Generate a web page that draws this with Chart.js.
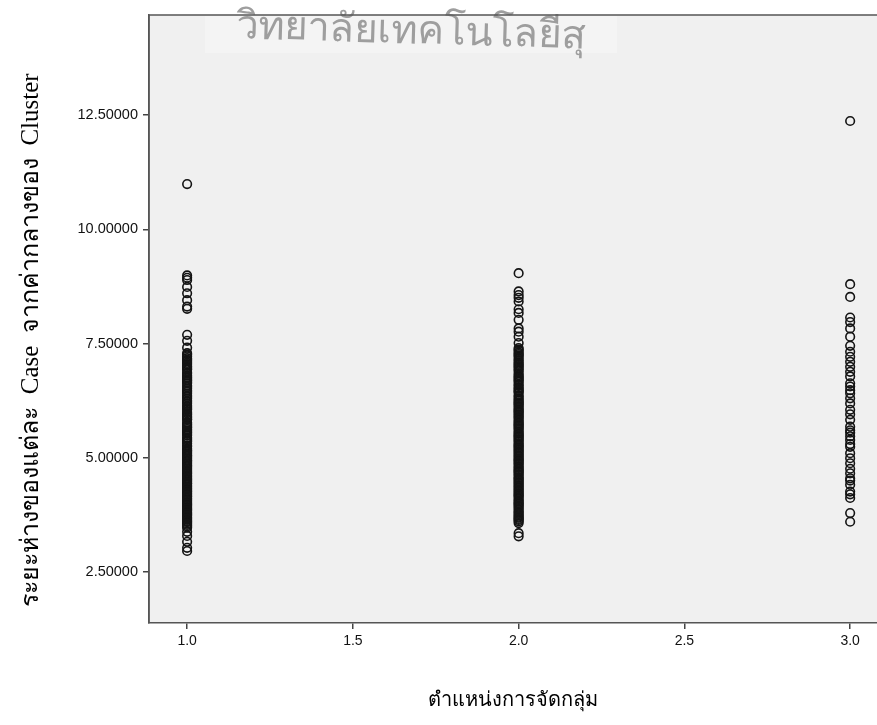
<!DOCTYPE html>
<html><head><meta charset="utf-8">
<script src="https://cdn.jsdelivr.net/npm/chart.js@4/dist/chart.umd.min.js"></script>
<style>html,body{margin:0;padding:0;background:#fff;} #wrap{width:877px;height:725px;position:relative;}</style>
</head><body><div id="wrap"><canvas id="c" width="877" height="725"></canvas></div>
<script>
const categories = [1.0, 2.0, 3.0];
const clusterOne = [10.99, 8.99, 8.94, 8.89, 8.74, 8.60, 8.45, 8.31, 8.26, 7.69, 7.56, 7.41,
  7.29, 7.22, 7.18, 7.12, 7.05, 6.98, 6.93, 6.87, 6.80, 6.74, 6.69, 6.63, 6.58, 6.51, 6.47, 6.40,
  6.36, 6.29, 6.22, 6.18, 6.11, 6.05, 6.00, 5.94, 5.88, 5.83, 5.77, 5.71, 5.66, 5.60, 5.55, 5.49,
  5.44, 5.38, 5.31, 5.27, 5.20, 5.15, 5.09, 5.04, 4.98, 4.93, 4.87, 4.82, 4.76, 4.70, 4.65, 4.59,
  4.53, 4.48, 4.43, 4.37, 4.31, 4.26, 4.20, 4.15, 4.09, 4.03, 3.98, 3.92, 3.87, 3.81, 3.76, 3.70,
  3.64, 3.59, 3.53, 3.47, 3.38, 3.29, 3.16, 3.03, 2.96,
  7.26, 7.15, 7.08, 7.01, 6.95, 6.84, 6.77, 6.71, 6.66, 6.55, 6.44, 6.33, 6.25, 6.14, 6.08, 5.97,
  5.91, 5.85, 5.74, 5.68, 5.63, 5.57, 5.52, 5.41, 5.35, 5.24, 5.17, 5.12, 5.06, 5.01, 4.95, 4.90,
  4.84, 4.79, 4.73, 4.67, 4.62, 4.56, 4.51, 4.45, 4.40, 4.34, 4.28, 4.23, 4.17, 4.12, 4.06, 4.00,
  3.95, 3.89, 3.84, 3.78, 3.73, 3.67, 3.61, 3.56, 3.50];
const clusterTwo = [9.04, 8.64, 8.56, 8.50, 8.42, 8.25, 8.17, 8.02, 7.83, 7.76, 7.65, 7.51,
  7.40, 7.34, 7.27, 7.21, 7.16, 7.09, 7.03, 6.97, 6.90, 6.85, 6.78, 6.72, 6.66, 6.61, 6.54, 6.48,
  6.43, 6.37, 6.30, 6.24, 6.19, 6.13, 6.06, 6.01, 5.95, 5.89, 5.82, 5.76, 5.71, 5.65, 5.58, 5.52,
  5.47, 5.41, 5.35, 5.28, 5.23, 5.17, 5.11, 5.05, 4.99, 4.94, 4.88, 4.81, 4.75, 4.70, 4.64, 4.57,
  4.52, 4.46, 4.40, 4.34, 4.28, 4.22, 4.17, 4.10, 4.04, 3.99, 3.93, 3.86, 3.80, 3.74, 3.69, 3.64,
  3.57, 3.35, 3.28,
  7.37, 7.30, 7.24, 7.13, 7.06, 7.00, 6.93, 6.81, 6.75, 6.69, 6.58, 6.51, 6.45, 6.34, 6.27, 6.21,
  6.16, 6.09, 6.03, 5.98, 5.92, 5.86, 5.79, 5.73, 5.68, 5.62, 5.55, 5.49, 5.44, 5.38, 5.31, 5.26,
  5.20, 5.14, 5.08, 5.02, 4.96, 4.91, 4.85, 4.78, 4.72, 4.67, 4.61, 4.55, 4.49, 4.43, 4.37, 4.31,
  4.25, 4.19, 4.14, 4.07, 4.01, 3.96, 3.90, 3.83, 3.77, 3.71, 3.66, 3.61];
const clusterThree = [12.37, 8.80, 8.52, 8.07, 7.97, 7.83, 7.65, 7.45, 7.32, 7.21, 7.10, 6.99,
  6.88, 6.78, 6.63, 6.56, 6.48, 6.41, 6.30, 6.19, 6.05, 5.95, 5.83, 5.68, 5.60, 5.55, 5.47, 5.39,
  5.30, 5.24, 5.10, 4.99, 4.88, 4.76, 4.66, 4.55, 4.50, 4.41, 4.26, 4.20, 4.12, 3.79, 3.60];
const xTicks = [1.0, 1.5, 2.0, 2.5, 3.0];
const yTicks = [2.5, 5.0, 7.5, 10.0, 12.5];
const xTitle = 'ตำแหน่งการจัดกลุ่ม';
const yTitle = 'ระยะห่างของแต่ละ  Case  จากค่ากลางของ  Cluster';
const watermark = 'วิทยาลัยเทคโนโลยีสุ';

const groups = [clusterOne, clusterTwo, clusterThree];
const points = [];
groups.forEach((vals, i) => vals.forEach(v => points.push({x: categories[i], y: v})));

const bgPlugin = {
  id: 'bg',
  beforeDraw(chart) {
    const {ctx, chartArea: a} = chart;
    ctx.save();
    ctx.fillStyle = '#f0f0f0';
    ctx.fillRect(a.left, a.top, a.right - a.left, a.bottom - a.top);
    ctx.fillStyle = '#f4f4f4';
    ctx.fillRect(205, a.top + 1, 412, 37);
    ctx.fillStyle = '#9e9e9e';
    ctx.font = '40px "Noto Sans", "DejaVu Sans", sans-serif';
    ctx.textBaseline = 'alphabetic';
    ctx.translate(236, 38);
    ctx.rotate(0.03);
    ctx.fillText(watermark, 0, 0);
    ctx.restore();
  },
  afterDraw(chart) {
    const {ctx, chartArea: a} = chart;
    ctx.save();
    ctx.strokeStyle = '#555';
    ctx.lineWidth = 1.5;
    ctx.beginPath();
    ctx.moveTo(a.left, a.bottom);
    ctx.lineTo(a.left, a.top);
    ctx.lineTo(a.right + 2, a.top);
    ctx.stroke();
    // y axis title
    ctx.fillStyle = '#000';
    ctx.font = '25px "Liberation Serif", "Times New Roman", serif';
    ctx.textAlign = 'center';
    ctx.textBaseline = 'middle';
    ctx.translate(31, 340);
    ctx.rotate(-Math.PI / 2);
    ctx.fillText(yTitle, 0, 0);
    ctx.restore();
  }
};

new Chart(document.getElementById('c'), {
  type: 'scatter',
  data: { datasets: [{
    data: points,
    pointStyle: 'circle',
    pointRadius: 4.3,
    pointHoverRadius: 4.3,
    borderWidth: 1.6,
    borderColor: '#141414',
    backgroundColor: 'rgba(0,0,0,0)'
  }]},
  options: {
    responsive: false,
    animation: false,
    devicePixelRatio: 1,
    events: [],
    layout: { autoPadding: false, padding: { left: 0, top: 15, right: 0, bottom: 0 } },
    plugins: { legend: { display: false }, tooltip: { enabled: false } },
    scales: {
      x: {
        type: 'linear', min: 0.885, max: 3.081,
        afterFit(s) { s.height = 102; s.paddingRight = 0; s.paddingLeft = 0; },
        afterBuildTicks(s) { s.ticks = xTicks.map(v => ({value: v})); },
        grid: { drawOnChartArea: false, drawTicks: true, tickLength: 6, color: '#444', lineWidth: 1.5 },
        border: { display: true, color: '#555', width: 1.5 },
        ticks: { padding: 4, color: '#111', font: { family: '"Liberation Sans", Arial, sans-serif', size: 14 },
          callback: v => Number(v).toFixed(1), autoSkip: false, maxRotation: 0 },
        title: { display: true, text: xTitle, color: '#000',
          font: { family: '"Liberation Serif", "Times New Roman", serif', size: 20 },
          padding: { top: 0, bottom: 12 } }
      },
      y: {
        type: 'linear', min: 1.384, max: 14.69,
        afterFit(s) { s.width = 149; s.paddingTop = 0; s.paddingBottom = 0; },
        afterBuildTicks(s) { s.ticks = yTicks.map(v => ({value: v})); },
        grid: { drawOnChartArea: false, drawTicks: true, tickLength: 6, color: '#444', lineWidth: 1.5 },
        border: { display: true, color: '#555', width: 1.5 },
        ticks: { padding: 5, color: '#111', font: { family: '"Liberation Sans", Arial, sans-serif', size: 14.5 },
          callback: v => Number(v).toFixed(5), autoSkip: false },
        title: { display: false, text: yTitle }
      }
    }
  },
  plugins: [bgPlugin]
});
</script>
</body></html>
